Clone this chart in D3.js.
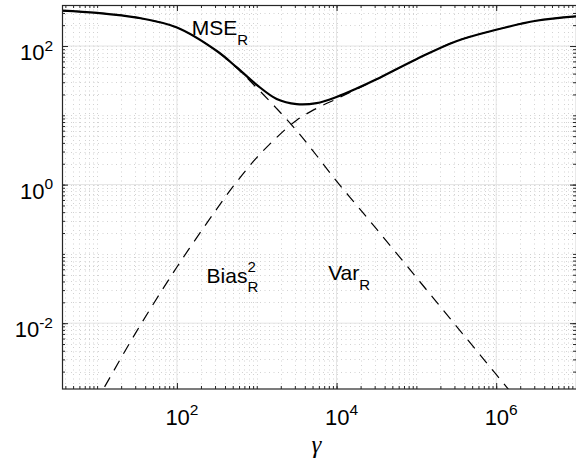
<!DOCTYPE html>
<html lang="en">
<head>
  <meta charset="UTF-8">
  <title>MSE, Bias and Var vs gamma</title>
  <script src="https://d3js.org/d3.v7.min.js"></script>
  <style>
    body {
      margin: 0;
      background: #fff;
      font-family: "Liberation Sans", Arial, sans-serif;
    }
    .major-grid line { stroke: #e4e4e4; stroke-width: 1; }
    .minor-grid line { stroke: #d2d2d2; stroke-width: 1; stroke-dasharray: 1,3.5; }
    .axis path { display: none; }
    .axis line { stroke: #262626; }
  </style>
</head>
<body>
  <div id="chart"></div>
  <script>
    // values (log-log chart)
    const gamma    = [3.162, 10, 31.62, 100, 316.2, 562.3, 1000, 1778, 3162, 5623, 1e4, 17780, 31620, 1e5, 3.162e5, 1e6, 3.162e6, 1e7];
    const mse      = [327, 301, 257, 185, 84.7, 49.1, 27.5, 17.2, 14.5, 15.0, 18.4, 24.3, 33.1, 64.6, 117.5, 171.8, 231.7, 267.9];
    const bias     = [7.8e-5, 7.8e-4, 7.8e-3, 0.0646, 0.447, 1.10, 2.45, 4.79, 8.51, 12.6, 17.25, 23.8, 32.9, 64.5, 117.5, 171.8, 231.7, 267.9];
    const variance = [327, 301, 257, 185, 84.25, 48.0, 25.0, 12.5, 6.0, 2.63, 1.12, 0.507, 0.229, 0.0457, 9.1e-3, 1.82e-3, 3.63e-4, 7.2e-5];

    const xMajor = [1e2, 1e4, 1e6];
    const xMajorExp = ["2", "4", "6"];
    const yMajor = [1e-2, 1e0, 1e2];
    const yMajorExp = ["-2", "0", "2"];

    const W = 576, H = 465;
    const margin = { top: 5, right: 0, bottom: 76, left: 62 };
    const width = W - margin.left - margin.right;
    const height = H - margin.top - margin.bottom;

    const x = d3.scaleLog().domain([3.63, 1e7]).range([0, width]);
    const y = d3.scaleLog().domain([Math.pow(10, -2.95), Math.pow(10, 2.592)]).range([height, 0]);

    const svg = d3.select("#chart").append("svg")
      .attr("width", W)
      .attr("height", H);

    const g = svg.append("g")
      .attr("transform", `translate(${margin.left},${margin.top})`);

    const xMinor = x.ticks();
    const yMinor = y.ticks();

    // minor grid (dotted)
    g.append("g")
      .attr("class", "minor-grid")
      .selectAll("line")
      .data(xMinor)
      .join("line")
      .attr("x1", d => Math.round(x(d)) + 0.5).attr("x2", d => Math.round(x(d)) + 0.5)
      .attr("y1", 0).attr("y2", height);

    g.append("g")
      .attr("class", "minor-grid")
      .selectAll("line")
      .data(yMinor)
      .join("line")
      .attr("y1", d => Math.round(y(d)) + 0.5).attr("y2", d => Math.round(y(d)) + 0.5)
      .attr("x1", 0).attr("x2", width);

    // major grid
    g.append("g")
      .attr("class", "major-grid")
      .selectAll("line")
      .data(xMajor)
      .join("line")
      .attr("x1", d => x(d)).attr("x2", d => x(d))
      .attr("y1", 0).attr("y2", height);

    g.append("g")
      .attr("class", "major-grid")
      .selectAll("line")
      .data(yMajor)
      .join("line")
      .attr("y1", d => y(d)).attr("y2", d => y(d))
      .attr("x1", 0).attr("x2", width);

    // curves
    g.append("clipPath").attr("id", "clip")
      .append("rect").attr("width", width).attr("height", height);

    const path = d3.line()
      .x(d => x(d[0]))
      .y(d => y(d[1]))
      .curve(d3.curveCatmullRom.alpha(0.5));

    const curves = g.append("g").attr("clip-path", "url(#clip)");

    curves.append("path")
      .datum(gamma.map((v, i) => [v, bias[i]]))
      .attr("d", path)
      .attr("fill", "none")
      .attr("stroke", "#000")
      .attr("stroke-width", 1.2)
      .attr("stroke-dasharray", "11,8");

    curves.append("path")
      .datum(gamma.map((v, i) => [v, variance[i]]))
      .attr("d", path)
      .attr("fill", "none")
      .attr("stroke", "#000")
      .attr("stroke-width", 1.2)
      .attr("stroke-dasharray", "11,8");

    curves.append("path")
      .datum(gamma.map((v, i) => [v, mse[i]]))
      .attr("d", path)
      .attr("fill", "none")
      .attr("stroke", "#000")
      .attr("stroke-width", 2.2);

    // axes: ticks point inward on all four sides
    g.append("g").attr("class", "axis")
      .attr("transform", `translate(0,${height})`)
      .call(d3.axisBottom(x).tickValues(xMinor).tickSize(-3).tickFormat(""));
    g.append("g").attr("class", "axis")
      .attr("transform", `translate(0,${height})`)
      .call(d3.axisBottom(x).tickValues(xMajor).tickSize(-6).tickFormat(""));
    g.append("g").attr("class", "axis")
      .call(d3.axisTop(x).tickValues(xMinor).tickSize(-3).tickFormat(""));
    g.append("g").attr("class", "axis")
      .call(d3.axisTop(x).tickValues(xMajor).tickSize(-6).tickFormat(""));
    g.append("g").attr("class", "axis")
      .call(d3.axisLeft(y).tickValues(yMinor).tickSize(-3).tickFormat(""));
    g.append("g").attr("class", "axis")
      .call(d3.axisLeft(y).tickValues(yMajor).tickSize(-6).tickFormat(""));
    g.append("g").attr("class", "axis")
      .attr("transform", `translate(${width},0)`)
      .call(d3.axisRight(y).tickValues(yMinor).tickSize(-3).tickFormat(""));
    g.append("g").attr("class", "axis")
      .attr("transform", `translate(${width},0)`)
      .call(d3.axisRight(y).tickValues(yMajor).tickSize(-6).tickFormat(""));

    // box
    g.append("rect")
      .attr("x", 0.5).attr("y", 0.5)
      .attr("width", width).attr("height", height - 0.5)
      .attr("fill", "none")
      .attr("stroke", "#262626")
      .attr("stroke-width", 1.2);

    // tick labels with exponents
    const xl = g.append("g").selectAll("text")
      .data(xMajor)
      .join("text")
      .attr("x", d => x(d) + 5)
      .attr("y", height + 36)
      .attr("text-anchor", "middle")
      .attr("font-size", 22)
      .attr("fill", "#000");
    xl.append("tspan").text("10");
    xl.append("tspan").attr("dy", -10).attr("font-size", 15.5).text((d, i) => xMajorExp[i]);

    const yl = g.append("g").selectAll("text")
      .data(yMajor)
      .join("text")
      .attr("x", -9)
      .attr("y", d => y(d) + 14)
      .attr("text-anchor", "end")
      .attr("font-size", 22)
      .attr("fill", "#000");
    yl.append("tspan").text("10");
    yl.append("tspan").attr("dy", -9.5).attr("font-size", 15.5).text((d, i) => yMajorExp[i]);

    // x label
    g.append("text")
      .attr("x", x(1e4) - 25)
      .attr("y", height + 64)
      .attr("font-family", "'Liberation Serif', serif")
      .attr("font-style", "italic")
      .attr("font-size", 25)
      .attr("fill", "#000")
      .text("γ");

    // curve annotations
    const mseLab = g.append("text")
      .attr("x", x(153)).attr("y", y(144))
      .attr("font-size", 21).attr("fill", "#000");
    mseLab.append("tspan").text("MSE");
    mseLab.append("tspan").attr("dy", 10).attr("font-size", 15).text("R");

    const biasLab = g.append("text")
      .attr("x", x(235)).attr("y", y(0.0377))
      .attr("font-size", 21).attr("fill", "#000");
    biasLab.append("tspan").text("Bias");
    biasLab.append("tspan").attr("dy", -11).attr("font-size", 15).text("2");
    biasLab.append("tspan").attr("dx", -8.3).attr("dy", 20).attr("font-size", 15).text("R");

    const varLab = g.append("text")
      .attr("x", x(7850)).attr("y", y(0.042))
      .attr("font-size", 21).attr("fill", "#000");
    varLab.append("tspan").text("Var");
    varLab.append("tspan").attr("dy", 10).attr("font-size", 15).text("R");
  </script>
</body>
</html>
